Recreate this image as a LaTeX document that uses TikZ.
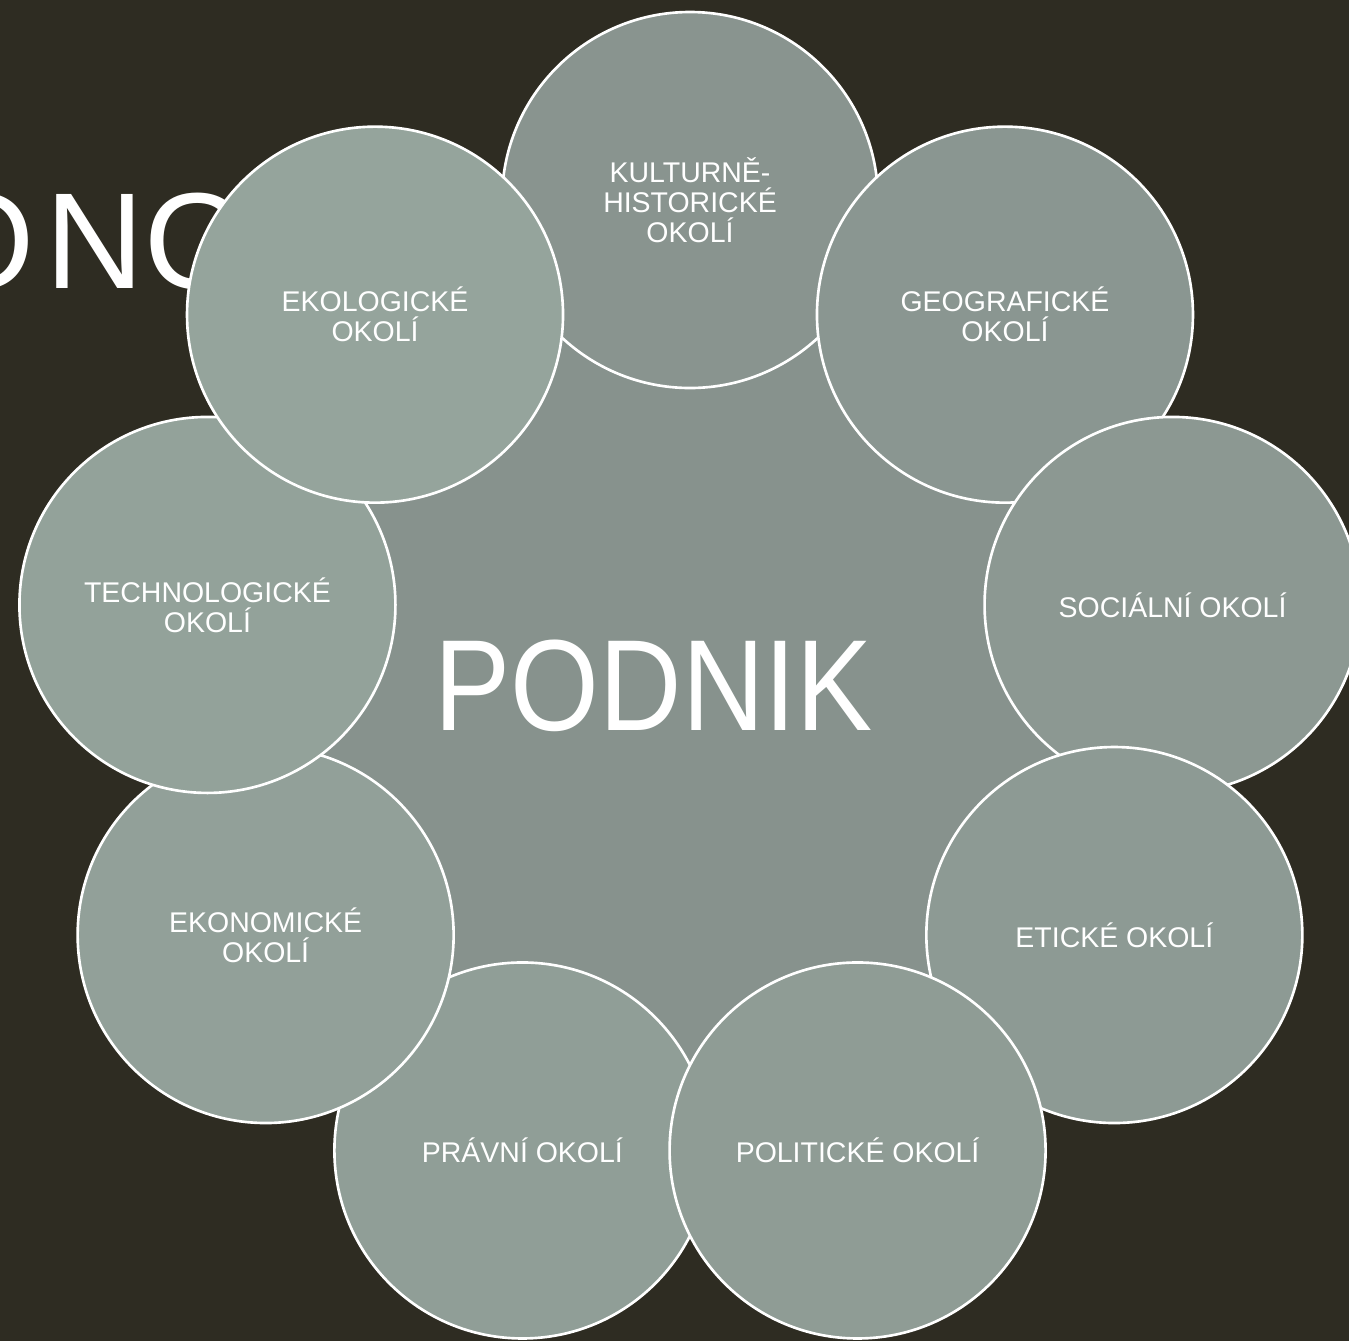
\documentclass[tikz,border=0pt]{standalone}
\usepackage{fontspec}
\setmainfont{Liberation Sans}
\newfontfamily\podnikfont[FakeStretch=0.88]{Liberation Sans}
\definecolor{slidebg}{RGB}{46,44,34}
\definecolor{hubfill}{RGB}{135,146,141}
\definecolor{ringfirst}{RGB}{137,148,143}
\definecolor{ringlast}{RGB}{149,164,156}

\begin{document}
\begin{tikzpicture}[
        ring/.style={circle, draw=white, line width=0.75pt, minimum size=3.76cm, inner sep=0pt,
            text=white, align=center, font=\fontsize{8.1}{8.5}\selectfont},
        hub/.style={circle, fill=hubfill, minimum size=8.6cm, inner sep=0pt}]
        % Slide background
        \fill[slidebg] (-6.9,6.9) rectangle (6.59,-6.51);
        \useasboundingbox (-6.9,6.9) rectangle (6.59,-6.51);
        \clip (-6.9,6.9) rectangle (6.59,-6.51);

        % Title, mostly hidden behind the circles
        \node[anchor=base west, inner sep=0pt, text=white,
            font=\fontsize{38.9}{40}\selectfont] (title) at (-7.62,4.02) {O\kern0.08em NO};

        % Centre circle
        \node[hub] (hub) at (0,0) {};
        \node[anchor=base, inner sep=0pt, text=white,
            font=\podnikfont\fontsize{36.9}{40}\selectfont] (podnik) at (-0.365,-0.40) {PODNIK};

        % Outer circles, in this order so the overlaps come out right
        \foreach \name/\ang/\tone/\txt in {
            kult/90/0/{KULTURNĚ-\\HISTORICKÉ\\OKOLÍ},
            geo/50/12/{GEOGRAFICKÉ\\OKOLÍ},
            soc/10/25/{SOCIÁLNÍ OKOLÍ},
            etic/-30/37/{ETICKÉ OKOLÍ},
            prav/-110/62/{PRÁVNÍ OKOLÍ},
            pol/-70/50/{POLITICKÉ OKOLÍ},
            ekon/-150/75/{EKONOMICKÉ\\OKOLÍ},
            tech/170/87/{TECHNOLOGICKÉ\\OKOLÍ},
            ekol/130/100/{EKOLOGICKÉ\\OKOLÍ}} {
            \node[ring, fill=ringlast!\tone!ringfirst] (\name) at (\ang:4.9) {\txt};
        }
\end{tikzpicture}
\end{document}
